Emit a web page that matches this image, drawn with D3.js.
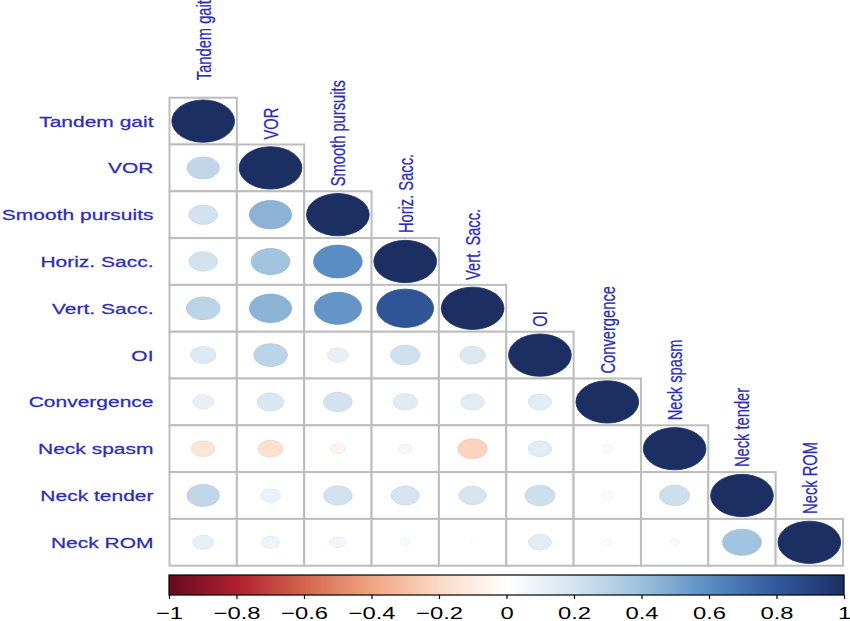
<!DOCTYPE html>
<html>
<head>
<meta charset="utf-8">
<script src="https://cdn.jsdelivr.net/npm/d3@7"></script>
<style>
  html, body { margin: 0; padding: 0; background: #ffffff; }
  svg { display: block; }
</style>
</head>
<body>
<svg id="chart" width="850" height="621"></svg>
<script>
// ---------- DATA ----------
const variables = ["Tandem gait", "VOR", "Smooth pursuits", "Horiz. Sacc.", "Vert. Sacc.",
                   "OI", "Convergence", "Neck spasm", "Neck tender", "Neck ROM"];

// Lower-triangle correlation rows (row i has i+1 values: columns 0..i)
const rowTandemGait     = [1];
const rowVOR            = [0.27, 1];
const rowSmoothPursuits = [0.21, 0.45, 1];
const rowHorizSacc      = [0.21, 0.38, 0.60, 1];
const rowVertSacc       = [0.29, 0.45, 0.57, 0.82, 1];
const rowOI             = [0.16, 0.29, 0.11, 0.22, 0.17, 1];
const rowConvergence    = [0.11, 0.18, 0.21, 0.15, 0.14, 0.14, 1];
const rowNeckSpasm      = [-0.14, -0.16, -0.06, 0.05, -0.22, 0.14, 0.03, 1];
const rowNeckTender     = [0.27, 0.10, 0.21, 0.20, 0.19, 0.23, 0.03, 0.23, 1];
const rowNeckROM        = [0.11, 0.08, 0.065, 0.025, 0.005, 0.135, 0.02, 0.02, 0.38, 1];

const corrRows = [rowTandemGait, rowVOR, rowSmoothPursuits, rowHorizSacc, rowVertSacc,
                  rowOI, rowConvergence, rowNeckSpasm, rowNeckTender, rowNeckROM];

const colorStops  = [-1, -0.8, -0.6, -0.4, -0.2, 0, 0.2, 0.4, 0.6, 0.8, 1];
const colorValues = ["#670a22", "#b01f2e", "#d4644f", "#f0a482", "#fbd9c5", "#ffffff",
                     "#d5e4f0", "#9cc0dc", "#5a8dc2", "#32599c", "#1b2f62"];
const legendTicks = [-1, -0.8, -0.6, -0.4, -0.2, 0, 0.2, 0.4, 0.6, 0.8, 1];

// ---------- LAYOUT ----------
const svg = d3.select("#chart");
const STRETCH = 1.40;          // horizontal stretch of text seen in the reference
const labelColor = "#2d2db4";
const fontFam = "'Liberation Sans', Arial, Helvetica, sans-serif";

const gridLeft = 169.5, gridRight = 843, gridTop = 97.7, gridBottom = 565.7;

const x = d3.scaleBand().domain(variables).range([gridLeft, gridRight]).padding(0);
const y = d3.scaleBand().domain(variables).range([gridTop, gridBottom]).padding(0);
const color = d3.scaleLinear().domain(colorStops).range(colorValues).clamp(true);

const cells = [];
corrRows.forEach((row, i) => {
  row.forEach((v, j) => cells.push({ r: variables[i], c: variables[j], v }));
});

// cell frames
svg.append("g").selectAll("rect").data(cells).join("rect")
  .attr("x", d => x(d.c))
  .attr("y", d => y(d.r))
  .attr("width", x.bandwidth())
  .attr("height", y.bandwidth())
  .attr("fill", "#ffffff")
  .attr("stroke", "#bdbdbd")
  .attr("stroke-width", 2);

// ellipses
svg.append("g").selectAll("ellipse").data(cells).join("ellipse")
  .attr("cx", d => x(d.c) + x.bandwidth() / 2)
  .attr("cy", d => y(d.r) + y.bandwidth() / 2)
  .attr("rx", d => 0.4655 * x.bandwidth() * Math.sqrt(Math.abs(d.v)))
  .attr("ry", d => 0.452 * y.bandwidth() * Math.sqrt(Math.abs(d.v)))
  .attr("fill", d => color(d.v))
  .attr("stroke", d => d3.color(color(d.v)).darker(0.15))
  .attr("stroke-width", 0.8);

// row labels
svg.append("g").selectAll("text").data(variables).join("text")
  .attr("transform", d => `translate(153.5,${y(d) + y.bandwidth() / 2}) scale(${STRETCH},1)`)
  .attr("text-anchor", "end")
  .attr("dy", "0.36em")
  .attr("font-family", fontFam)
  .attr("font-size", 15)
  .attr("fill", labelColor)
  .attr("stroke", labelColor)
  .attr("stroke-width", 0.25)
  .text(d => d);

// column labels (rotated, above the diagonal)
svg.append("g").selectAll("text").data(variables).join("text")
  .attr("transform", (d, i) => {
    const gap = i === 0 ? 17.5 : 5;
    return `translate(${x(d) + x.bandwidth() / 2},${y(d) - gap}) scale(${STRETCH},1) rotate(-90)`;
  })
  .attr("text-anchor", "start")
  .attr("dy", "0.36em")
  .attr("font-family", fontFam)
  .attr("font-size", 14.7)
  .attr("fill", labelColor)
  .attr("stroke", labelColor)
  .attr("stroke-width", 0.2)
  .text(d => d);

// ---------- COLOR LEGEND ----------
const barLeft = 169, barRight = 844, barTop = 575, barBottom = 595;
const lx = d3.scaleLinear().domain([-1, 1]).range([barLeft, barRight]);

const defs = svg.append("defs");
const grad = defs.append("linearGradient").attr("id", "cbar")
  .attr("x1", "0%").attr("x2", "100%").attr("y1", "0%").attr("y2", "0%");
d3.range(0, 101).forEach(k => {
  const v = -1 + 2 * k / 100;
  grad.append("stop").attr("offset", k + "%").attr("stop-color", color(v));
});

svg.append("rect")
  .attr("x", barLeft).attr("y", barTop)
  .attr("width", barRight - barLeft).attr("height", barBottom - barTop)
  .attr("fill", "url(#cbar)")
  .attr("stroke", "#000").attr("stroke-width", 1.2);

const fmt = d3.format("~g");
const axis = d3.axisBottom(lx).tickValues(legendTicks).tickSize(4).tickPadding(8)
  .tickFormat(d => fmt(d));
const ag = svg.append("g").attr("transform", `translate(0,${barBottom})`).call(axis);
ag.select(".domain").remove();
ag.selectAll(".tick line").attr("stroke", "#000").attr("stroke-width", 1.2);
ag.selectAll(".tick text")
  .attr("font-family", fontFam)
  .attr("font-size", 17)
  .attr("fill", "#000")
  .attr("transform", `scale(${STRETCH},1)`);
</script>
</body>
</html>
